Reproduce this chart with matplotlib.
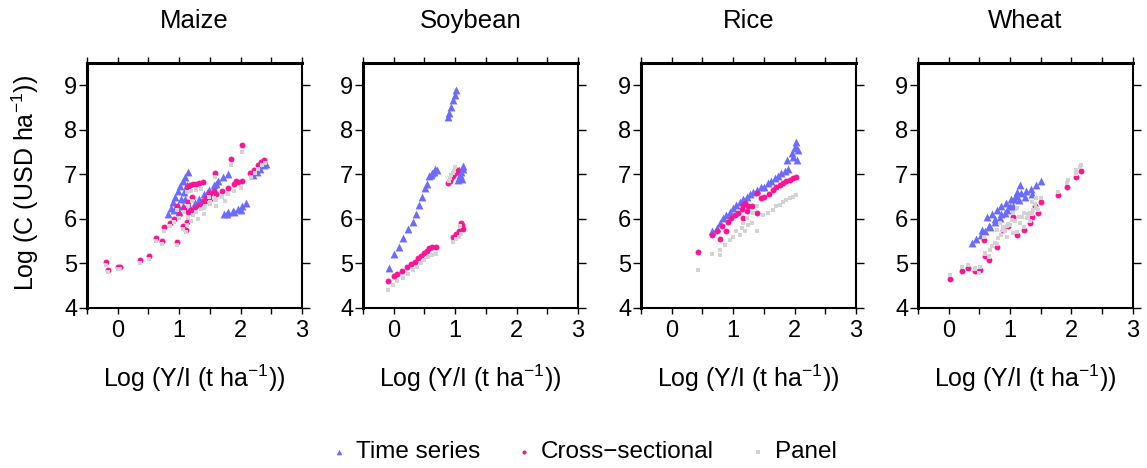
import matplotlib
matplotlib.use("Agg")
import matplotlib.pyplot as plt

plt.rcParams['font.family'] = ['Liberation Sans', 'DejaVu Sans']
plt.rcParams['mathtext.fontset'] = 'custom'
plt.rcParams['mathtext.rm'] = 'Liberation Sans'
plt.rcParams['mathtext.default'] = 'regular'

crops = ['Maize', 'Soybean', 'Rice', 'Wheat']
series = ['Time series', 'Cross\u2212sectional', 'Panel']

# ---- Maize
maize_ts_x = [0.82, 0.86, 0.90, 0.94, 0.98, 1.02, 1.06, 1.10, 1.14, 0.92, 0.98, 1.03, 1.08, 1.12, 1.00, 1.06, 1.10,
              1.18, 1.25, 1.32, 1.40, 1.48, 1.56, 1.64, 1.72, 1.80, 1.30, 1.45, 1.60,
              1.73, 1.80, 1.87, 1.95, 2.02, 2.08, 1.78, 1.90, 2.00,
              2.20, 2.26, 2.32, 2.38, 2.42]
maize_ts_y = [6.12, 6.25, 6.38, 6.50, 6.62, 6.74, 6.85, 6.95, 7.05, 6.20, 6.30, 6.45, 6.60, 6.75, 6.15, 6.30, 6.45,
              6.25, 6.35, 6.45, 6.55, 6.65, 6.75, 6.85, 6.93, 7.00, 6.38, 6.58, 6.78,
              6.12, 6.15, 6.18, 6.22, 6.28, 6.35, 6.10, 6.15, 6.20,
              6.98, 7.05, 7.12, 7.20, 7.24]
maize_cs_x = [-0.19, -0.16, 0.00, 0.03, 0.37, 0.51, 0.63, 0.72, 0.75, 0.96, 0.97, 1.06, 1.11, 1.13,
              0.85, 0.92, 1.00, 1.08, 1.15, 1.21,
              1.12, 1.17, 1.22, 1.28, 1.33, 1.38,
              1.15, 1.20, 1.26, 1.32, 1.38, 1.44, 1.50, 1.56, 1.49, 1.59,
              1.40, 1.50, 1.60, 1.70, 1.80, 1.90, 1.96, 2.03, 1.92, 1.85, 2.03,
              2.16, 2.22, 2.28, 2.34, 2.38]
maize_cs_y = [5.04, 4.86, 4.93, 4.93, 5.07, 5.16, 5.57, 5.51, 5.81, 5.48, 6.30, 5.83, 5.75, 5.94,
              5.90, 6.00, 6.12, 6.25, 6.38, 6.50,
              6.72, 6.76, 6.78, 6.79, 6.80, 6.82,
              6.16, 6.20, 6.26, 6.32, 6.40, 6.48, 6.56, 6.62, 6.59, 7.04,
              6.35, 6.45, 6.55, 6.62, 6.70, 6.78, 6.82, 6.86, 6.84, 7.34, 7.66,
              7.02, 7.10, 7.20, 7.28, 7.32]
maize_pa_x = [-0.19, -0.16, 0.00, 0.04, 0.37, 0.51, 0.63, 0.72, 0.75, 0.96, 0.97, 1.06, 1.11, 1.13,
              0.85, 0.92, 1.00, 1.08, 1.15, 1.21,
              1.12, 1.20, 1.28, 1.36,
              1.15, 1.22, 1.28, 1.35, 1.42, 1.50, 1.56, 1.20, 1.30, 1.40,
              1.40, 1.50, 1.60, 1.70, 1.80, 1.90, 2.00, 1.60, 1.75, 1.85, 2.03, 1.59, 1.49,
              2.17, 2.23, 2.29, 2.35, 2.39]
maize_pa_y = [4.97, 4.80, 4.88, 4.88, 5.00, 5.10, 5.50, 5.43, 5.73, 5.42, 6.20, 5.77, 5.70, 5.87,
              5.83, 5.93, 6.03, 6.15, 6.28, 6.40,
              6.60, 6.62, 6.65, 6.68,
              6.02, 6.08, 6.15, 6.22, 6.30, 6.38, 6.46, 5.95, 6.00, 6.10,
              6.25, 6.33, 6.42, 6.50, 6.57, 6.63, 6.70, 6.30, 6.40, 7.20, 7.50, 6.95, 6.50,
              6.95, 7.02, 7.12, 7.20, 7.25]

# ---- Soybean
soy_ts_x = [-0.08, 0.00, 0.08, 0.15, 0.23, 0.31, 0.36, 0.41, 0.46, 0.51, 0.54, 0.57, 0.60, 0.63, 0.66, 0.68, 0.70,
            0.88, 0.90, 0.94, 0.96, 0.99, 1.02,
            1.04, 1.06, 1.08, 1.10, 1.12, 1.13, 1.07, 1.11]
soy_ts_y = [4.90, 5.22, 5.37, 5.58, 5.78, 5.94, 6.10, 6.31, 6.50, 6.69, 6.78, 6.96, 6.98, 7.02, 7.06, 7.13, 7.10,
            8.29, 8.38, 8.51, 8.66, 8.78, 8.89,
            6.87, 6.92, 6.98, 7.05, 7.13, 7.18, 7.10, 6.90]
soy_cs_x = [-0.09, 0.00, 0.06, 0.14, 0.22, 0.28, 0.34, 0.39, 0.44, 0.50, 0.54, 0.58, 0.63, 0.69,
            0.88, 0.91, 0.94, 0.97, 0.99, 1.01, 1.03,
            0.96, 1.01, 1.06, 1.12, 1.09, 1.11]
soy_cs_y = [4.61, 4.71, 4.76, 4.84, 4.92, 4.99, 5.04, 5.12, 5.16, 5.23, 5.29, 5.34, 5.37, 5.38,
            6.80, 6.85, 6.91, 6.97, 7.02, 7.06, 7.10,
            5.60, 5.66, 5.72, 5.77, 5.90, 5.86]
soy_pa_x = [-0.09, -0.02, 0.06, 0.15, 0.23, 0.31, 0.38, 0.45, 0.50, 0.56, 0.63, 0.69,
            0.90, 0.92, 0.94, 0.96, 0.98, 1.00,
            0.96, 1.01, 1.06, 1.10, 1.08]
soy_pa_y = [4.41, 4.52, 4.60, 4.67, 4.77, 4.86, 4.93, 5.01, 5.08, 5.14, 5.19, 5.22,
            6.84, 6.92, 6.99, 7.04, 7.08, 7.17,
            5.49, 5.55, 5.60, 5.66, 5.83]

# ---- Rice
rice_ts_x = [0.65, 0.73, 0.78, 0.84, 0.89, 0.95, 1.00, 1.05, 1.11, 1.16, 1.22, 1.27, 1.32, 1.38, 1.46,
             1.51, 1.57, 1.62, 1.68, 1.73, 1.78, 1.84, 1.89,
             1.88, 1.95, 2.00, 2.03, 2.05, 2.04, 1.98, 2.02]
rice_ts_y = [5.72, 5.79, 5.90, 6.01, 6.09, 6.16, 6.24, 6.31, 6.39, 6.44, 6.50, 6.56, 6.61, 6.66, 6.72,
             6.72, 6.80, 6.86, 6.91, 6.97, 7.02, 7.08, 7.11,
             7.32, 7.47, 7.62, 7.73, 7.54, 7.32, 7.40, 7.60]
rice_cs_x = [0.42, 0.65, 0.73, 0.78, 0.82, 0.89, 0.92, 0.97, 1.03, 1.08, 1.14, 1.16, 1.19, 1.24, 1.30,
             1.38, 1.38, 1.45, 1.51, 1.59, 1.65, 1.70, 1.76, 1.81, 1.86, 1.92, 1.97, 2.03, 1.16, 1.22]
rice_cs_y = [5.25, 5.64, 5.73, 5.54, 5.83, 5.72, 5.94, 6.01, 6.09, 6.13, 6.22, 6.31, 6.35, 6.28, 6.28,
             6.59, 6.13, 6.46, 6.50, 6.57, 6.65, 6.71, 6.76, 6.80, 6.84, 6.87, 6.91, 6.95, 6.01, 6.18]
rice_pa_x = [0.42, 0.65, 0.78, 0.78, 0.86, 0.95, 1.00, 1.05, 1.11, 1.14, 1.16, 1.19, 1.22, 1.24, 1.30,
             1.38, 1.32, 1.39, 1.49, 1.57, 1.65, 1.70, 1.76, 1.81, 1.86, 1.92, 1.97, 2.03]
rice_pa_y = [4.86, 5.22, 5.31, 5.19, 5.42, 5.53, 5.60, 5.72, 5.64, 5.79, 5.90, 5.72, 6.01, 5.87, 5.90,
             6.28, 6.13, 5.72, 6.09, 6.14, 6.20, 6.28, 6.31, 6.39, 6.43, 6.46, 6.50, 6.54]

# ---- Wheat
wheat_ts_x = [0.38, 0.45, 0.52, 0.60, 0.68, 0.76, 0.84, 0.92, 1.00, 1.07, 1.12, 1.16,
              0.62, 0.70, 0.78, 0.86, 0.94, 1.02, 1.10, 1.18, 1.26, 1.34, 1.42, 1.51,
              0.75, 0.85, 0.95, 1.05, 1.15, 1.25, 1.35, 0.55, 0.65]
wheat_ts_y = [5.47, 5.55, 5.63, 5.72, 5.82, 5.92, 6.02, 6.14, 6.28, 6.45, 6.60, 6.75,
              6.05, 6.12, 6.20, 6.28, 6.36, 6.45, 6.52, 6.58, 6.62, 6.68, 6.75, 6.84,
              6.00, 6.10, 6.20, 6.30, 6.42, 6.50, 6.55, 5.75, 5.85]
wheat_cs_x = [0.03, 0.22, 0.32, 0.43, 0.51, 0.57, 0.59, 0.65, 0.78, 0.89, 0.97, 1.05, 1.11, 1.22,
              1.32, 1.41, 1.51, 1.78, 1.92, 2.08, 2.16, 1.35, 1.46]
wheat_cs_y = [4.66, 4.84, 4.90, 4.82, 4.86, 5.53, 5.16, 5.08, 5.38, 5.75, 5.83, 6.05, 5.64, 5.75,
              5.90, 6.28, 6.39, 6.54, 6.72, 6.95, 7.08, 6.05, 6.13]
wheat_pa_x = [0.03, 0.22, 0.31, 0.43, 0.50, 0.51, 0.57, 0.59, 0.65, 0.68, 0.76, 0.81, 0.86, 0.92,
              0.95, 1.00, 1.03, 1.05, 1.11, 1.14, 1.16, 1.22, 1.27, 1.32, 1.38, 1.43, 1.35, 1.43,
              1.51, 1.78, 1.92, 1.95, 2.08, 2.14, 2.16, 0.78, 0.95, 1.05, 0.84,
              0.32, 0.43, 0.59, 0.65, 0.78, 0.89, 0.97, 1.11, 1.22, 1.32, 1.41, 1.46, 1.35, 2.08,
              0.70, 0.88, 1.08, 1.20, 1.30]
wheat_pa_y = [4.73, 4.93, 4.97, 4.90, 4.78, 4.93, 5.60, 5.23, 5.16, 5.31, 5.46, 5.57, 5.64, 5.72,
              5.83, 5.87, 5.98, 6.13, 6.24, 6.05, 5.90, 6.13, 6.01, 6.13, 6.20, 6.24, 6.39, 6.46,
              6.46, 6.61, 6.80, 6.87, 7.10, 7.17, 7.21, 5.75, 5.60, 5.68, 5.90,
              4.96, 4.88, 5.22, 5.14, 5.44, 5.81, 5.89, 5.70, 5.81, 5.96, 6.34, 6.19, 6.11, 7.01,
              5.40, 5.75, 5.95, 6.05, 6.10]

data = {
    'Maize': [(maize_ts_x, maize_ts_y), (maize_cs_x, maize_cs_y), (maize_pa_x, maize_pa_y)],
    'Soybean': [(soy_ts_x, soy_ts_y), (soy_cs_x, soy_cs_y), (soy_pa_x, soy_pa_y)],
    'Rice': [(rice_ts_x, rice_ts_y), (rice_cs_x, rice_cs_y), (rice_pa_x, rice_pa_y)],
    'Wheat': [(wheat_ts_x, wheat_ts_y), (wheat_cs_x, wheat_cs_y), (wheat_pa_x, wheat_pa_y)],
}

colors = ['#6B6BFF', '#FF1493', '#D3D3D3']
markers = ['^', 'o', 's']
sizes = [32, 18, 12]

fig = plt.figure(figsize=(11.47, 4.68), dpi=100)
lefts = [0.0759, 0.3165, 0.5589, 0.8003]
w, b, h = 0.1874, 0.3419, 0.5235

handles = []
for i, crop in enumerate(crops):
    ax = fig.add_axes([lefts[i], b, w, h])
    for k in range(3):
        xs, ys = data[crop][k]
        sc = ax.scatter(xs, ys, marker=markers[k], s=sizes[k], c=colors[k],
                        linewidths=0, label=series[k], zorder=2 + k)
        if i == 0:
            handles.append(sc)
    ax.set_xlim(-0.5, 3)
    ax.set_ylim(4, 9.5)
    ax.set_xticks([-0.5, 0, 0.5, 1, 1.5, 2, 2.5, 3])
    ax.set_xticklabels(['', '0', '', '1', '', '2', '', '3'])
    ax.set_yticks([4, 5, 6, 7, 8, 9])
    ax.tick_params(axis='both', direction='out', length=4, width=1,
                   labelsize=17, top=True, right=True, colors='black')
    ax.tick_params(axis='x', pad=4.5)
    ax.tick_params(axis='y', which='major', left=True, length=6, pad=1)
    ax.spines['left'].set_linewidth(2.2)
    ax.spines['top'].set_linewidth(2.2)
    ax.spines['right'].set_linewidth(1.5)
    ax.spines['bottom'].set_linewidth(1.5)
    cx = lefts[i] + w / 2
    fig.text(cx, 0.956, crop, ha='center', va='center', fontsize=18.5)
    fig.text(cx, 0.191, 'Log (Y/I (t ha$^{-1}$))', ha='center', va='center', fontsize=18)

fig.text(0.022, 0.608, 'Log (C (USD ha$^{-1}$))', rotation=90, ha='center', va='center', fontsize=18)

fig.legend(handles=handles, loc='center', bbox_to_anchor=(0.507, 0.034), ncol=3,
           frameon=False, fontsize=17.5, markerscale=0.7, handletextpad=0.2,
           columnspacing=1.3, handlelength=1.0)

fig.savefig('out.png', dpi=100)
